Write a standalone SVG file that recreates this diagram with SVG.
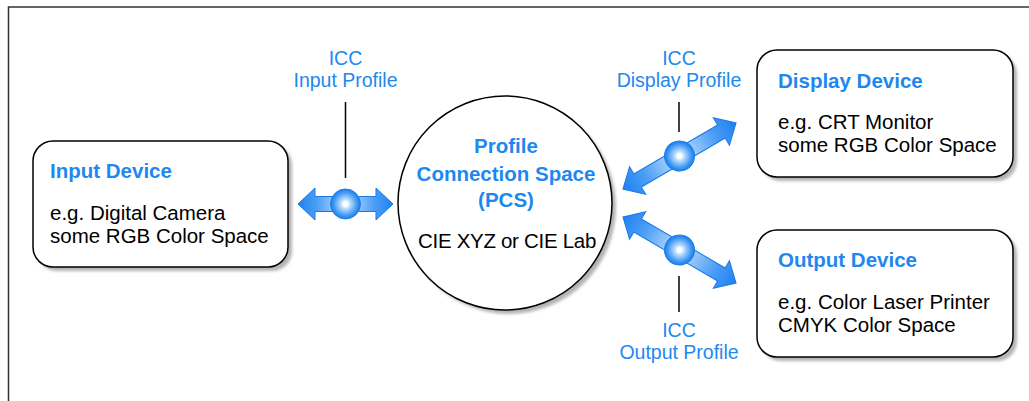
<svg xmlns="http://www.w3.org/2000/svg" width="1029" height="401" viewBox="0 0 1029 401">
<style>
  text { font-family: "Liberation Sans", Arial, sans-serif; font-size: 20.5px; }
  .hd { fill: #1e88f0; font-weight: bold; }
  .bl { fill: #1e88f0; font-size: 19.5px; }
  .bk { fill: #000; }
  .node { fill: #fff; stroke: #000; stroke-width: 1.5; }
  .shadow { fill: #b4b4b4; filter: url(#blur); }
  .lead { stroke: #000; stroke-width: 1.5; fill: none; }
  .arr { stroke: #1a78e8; stroke-width: 1; }
</style>
<defs>
  <filter id="blur" x="-10%" y="-10%" width="120%" height="120%">
    <feGaussianBlur stdDeviation="1.6"/>
  </filter>
  <linearGradient id="gh" gradientUnits="userSpaceOnUse" x1="-48" y1="0" x2="48" y2="0">
    <stop offset="0" stop-color="#1f80f0"/>
    <stop offset="0.2" stop-color="#4b9ef5"/>
    <stop offset="0.5" stop-color="#c8e3ff"/>
    <stop offset="0.8" stop-color="#4b9ef5"/>
    <stop offset="1" stop-color="#1f80f0"/>
  </linearGradient>
  <linearGradient id="gd" gradientUnits="userSpaceOnUse" x1="-66" y1="0" x2="66" y2="0">
    <stop offset="0" stop-color="#1f80f0"/>
    <stop offset="0.2" stop-color="#4b9ef5"/>
    <stop offset="0.5" stop-color="#c8e3ff"/>
    <stop offset="0.8" stop-color="#4b9ef5"/>
    <stop offset="1" stop-color="#1f80f0"/>
  </linearGradient>
  <radialGradient id="knob" cx="0.5" cy="0.5" r="0.5">
    <stop offset="0" stop-color="#ffffff"/>
    <stop offset="0.15" stop-color="#ffffff"/>
    <stop offset="0.3" stop-color="#bfe0ff"/>
    <stop offset="0.55" stop-color="#7cbaf8"/>
    <stop offset="0.8" stop-color="#3d96f2"/>
    <stop offset="1" stop-color="#1a7fe8"/>
  </radialGradient>
</defs>

<g id="frame">
  <path d="M8.5 401 V7 H1029" fill="none" stroke="#333" stroke-width="1.5"/>
</g>

<g id="connectors">
  <line class="lead" x1="345.5" y1="102" x2="345.5" y2="178"/>
  <line class="lead" x1="679" y1="102" x2="679" y2="132"/>
  <line class="lead" x1="679" y1="276" x2="679" y2="312"/>

  <g transform="translate(345.5,204)">
    <path class="arr" fill="url(#gh)" d="M-47.5 0 L-30.5 -16 L-30.5 -7.5 L30.5 -7.5 L30.5 -16 L47.5 0 L30.5 16 L30.5 7.5 L-30.5 7.5 L-30.5 16 Z"/>
    <circle r="15" fill="url(#knob)" stroke="#1a7fe8" stroke-width="1"/>
    <circle r="1.8" fill="#fff"/>
  </g>
  <g transform="translate(679.5,156) rotate(-30.3)">
    <path class="arr" fill="url(#gd)" d="M-65.5 0 L-48.5 -16 L-48.5 -7.5 L48.5 -7.5 L48.5 -16 L65.5 0 L48.5 16 L48.5 7.5 L-48.5 7.5 L-48.5 16 Z"/>
    <circle r="15" fill="url(#knob)" stroke="#1a7fe8" stroke-width="1"/>
    <circle r="1.8" fill="#fff"/>
  </g>
  <g transform="translate(679.5,250) rotate(30.3)">
    <path class="arr" fill="url(#gd)" d="M-65.5 0 L-48.5 -16 L-48.5 -7.5 L48.5 -7.5 L48.5 -16 L65.5 0 L48.5 16 L48.5 7.5 L-48.5 7.5 L-48.5 16 Z"/>
    <circle r="15" fill="url(#knob)" stroke="#1a7fe8" stroke-width="1"/>
    <circle r="1.8" fill="#fff"/>
  </g>

  <text class="bl" x="345.5" y="64.5" text-anchor="middle">ICC</text>
  <text class="bl" x="345.5" y="86.5" text-anchor="middle">Input Profile</text>
  <text class="bl" x="679" y="64.5" text-anchor="middle">ICC</text>
  <text class="bl" x="679" y="86.5" text-anchor="middle">Display Profile</text>
  <text class="bl" x="679" y="337" text-anchor="middle">ICC</text>
  <text class="bl" x="679" y="359" text-anchor="middle">Output Profile</text>
</g>

<g id="input-device">
  <rect class="shadow" x="37" y="145" width="255" height="126" rx="20"/>
  <rect class="node" x="33" y="141" width="255" height="126" rx="20"/>
  <text class="hd" x="50" y="178">Input Device</text>
  <text class="bk" x="50" y="220">e.g. Digital Camera</text>
  <text class="bk" x="50" y="243">some RGB Color Space</text>
</g>

<g id="pcs">
  <circle class="shadow" cx="509" cy="207" r="107"/>
  <circle class="node" cx="505" cy="203" r="107"/>
  <text class="hd" x="506" y="153" text-anchor="middle">Profile</text>
  <text class="hd" x="506" y="181" text-anchor="middle">Connection Space</text>
  <text class="hd" x="506" y="207" text-anchor="middle">(PCS)</text>
  <text class="bk" x="507" y="248" text-anchor="middle" letter-spacing="-0.3">CIE XYZ or CIE Lab</text>
</g>

<g id="display-device">
  <rect class="shadow" x="761" y="54" width="256" height="127" rx="20"/>
  <rect class="node" x="757" y="50" width="256" height="127" rx="20"/>
  <text class="hd" x="778" y="88">Display Device</text>
  <text class="bk" x="778" y="129">e.g. CRT Monitor</text>
  <text class="bk" x="778" y="152">some RGB Color Space</text>
</g>

<g id="output-device">
  <rect class="shadow" x="761" y="234" width="256" height="127" rx="20"/>
  <rect class="node" x="757" y="230" width="256" height="127" rx="20"/>
  <text class="hd" x="778" y="267">Output Device</text>
  <text class="bk" x="778" y="309">e.g. Color Laser Printer</text>
  <text class="bk" x="778" y="332">CMYK Color Space</text>
</g>
</svg>
